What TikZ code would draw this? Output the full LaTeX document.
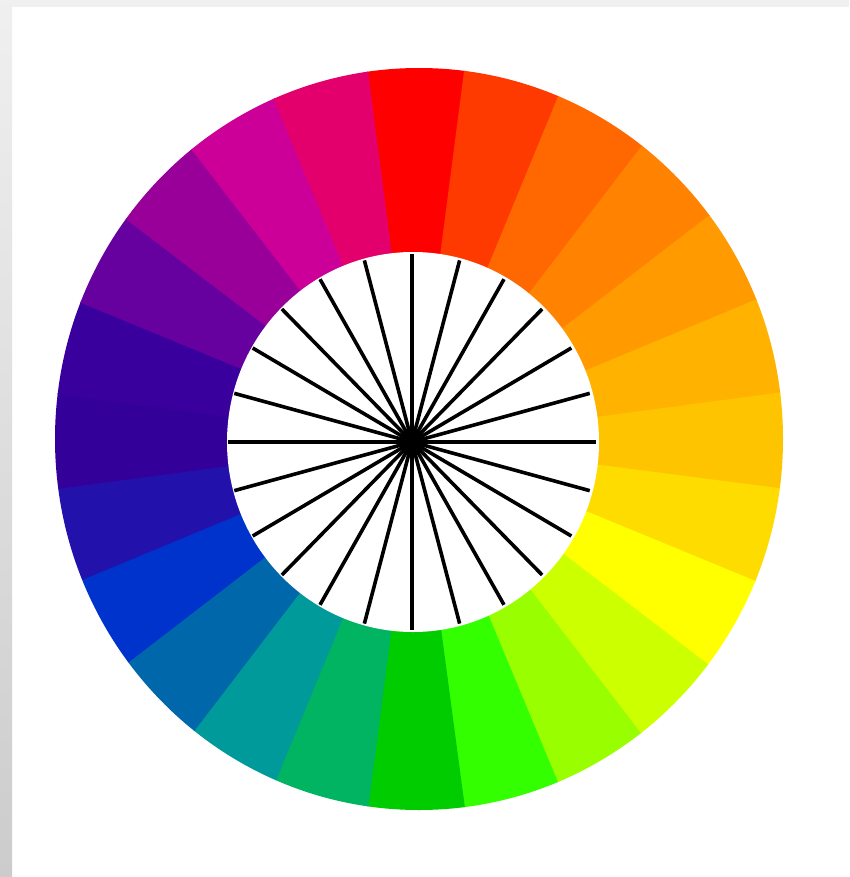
\documentclass[tikz,border=0pt]{standalone}
\definecolor{w01}{HTML}{FF0000}
\definecolor{w02}{HTML}{FF3A00}
\definecolor{w03}{HTML}{FF6800}
\definecolor{w04}{HTML}{FF8200}
\definecolor{w05}{HTML}{FF9A00}
\definecolor{w06}{HTML}{FFB200}
\definecolor{w07}{HTML}{FFC400}
\definecolor{w08}{HTML}{FFDC00}
\definecolor{w09}{HTML}{FFFF00}
\definecolor{w10}{HTML}{CCFF00}
\definecolor{w11}{HTML}{99FF00}
\definecolor{w12}{HTML}{33FF00}
\definecolor{w13}{HTML}{00CC00}
\definecolor{w14}{HTML}{00B462}
\definecolor{w15}{HTML}{009A9A}
\definecolor{w16}{HTML}{0068AA}
\definecolor{w17}{HTML}{0033CC}
\definecolor{w18}{HTML}{2211AA}
\definecolor{w19}{HTML}{330099}
\definecolor{w20}{HTML}{3A009E}
\definecolor{w21}{HTML}{66009E}
\definecolor{w22}{HTML}{990099}
\definecolor{w23}{HTML}{CC0099}
\definecolor{w24}{HTML}{E3006C}
\tikzset{spoke/.style={line width=3.6pt, black}}
\begin{document}
\begin{tikzpicture}[x=1pt,y=-1pt]
\useasboundingbox (0,0) rectangle (849,877);
\fill[white] (0,0) rectangle (849,877);
\shade[top color=black!6, bottom color=black!20] (0,0) rectangle (12,877);
\fill[black!6] (12,0) rectangle (849,7);
\coordinate (apex) at (416,441);
\coordinate (hub) at (412,442);
\begin{scope}
\clip (419,439) ellipse [x radius=364, y radius=371];
\foreach \a/\c in {90/w01,75/w02,60/w03,45/w04,30/w05,15/w06,0/w07,-15/w08,-30/w09,-45/w10,-60/w11,-75/w12,-90/w13,-105/w14,-120/w15,-135/w16,-150/w17,-165/w18,-180/w19,165/w20,150/w21,135/w22,120/w23,105/w24}
  \fill[\c] (apex) -- ({416+520*cos(\a-7.6)},{441-520*sin(\a-7.6)}) -- ({416+520*cos(\a+7.6)},{441-520*sin(\a+7.6)}) -- cycle;
\end{scope}
\fill[white] (413,442) ellipse [x radius=186, y radius=190];
\foreach \a in {0,15,...,345}
  \draw[spoke] (hub) -- ({412+184*cos(\a)},{442-188*sin(\a)});
\end{tikzpicture}
\end{document}
